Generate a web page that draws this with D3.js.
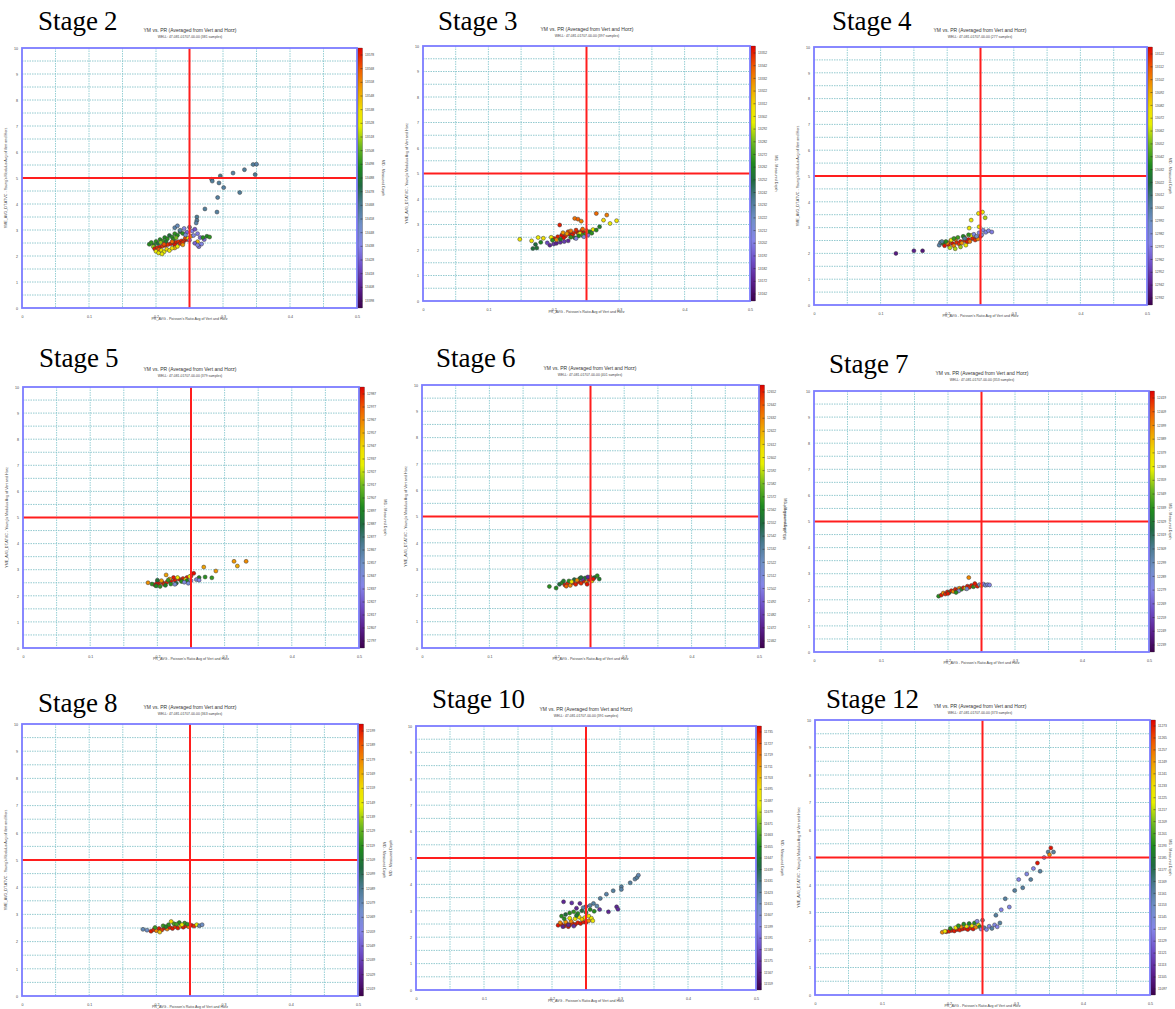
<!DOCTYPE html>
<html>
<head>
<meta charset="utf-8">
<script src="https://cdn.jsdelivr.net/npm/d3@7"></script>
<style>
  body { margin: 0; background: #fff; }
  svg { display: block; }
  .tick-lbl { font-family: 'Liberation Sans', Arial, sans-serif; fill: #444; }
</style>
</head>
<body>
<svg id="chart" width="1175" height="1009"></svg>
<script>
/* global d3 */

// ---- data ----
const stageNames= ['2', '3', '4', '5', '6', '7', '8', '10', '12'];
const sampleCounts= [381, 397, 277, 379, 401, 353, 363, 391, 373];
const wellName= 'WELL: 47-081-01707-00-00';
const chartTitle= 'YM vs. PR (Averaged from Vert and Horz)';
const xLabel= 'PR_AVG - Poisson\'s Ratio Avg of Vert and Horz';
const yLabel= 'YME_AVG_DT.ATVC - Young\'s Modulus Avg of Vert and Horz';
const cLabel= 'MD - Measured Depth';
const xTickVals= [0, 0.1, 0.2, 0.3, 0.4, 0.5];
const yTickVals= [0, 1, 2, 3, 4, 5, 6, 7, 8, 9, 10];
const prCut= 0.25, ymCut= 5;

const mdTicks2= [13398,13408,13418,13428,13438,13448,13458,13468,13478,13488,13498,13508,13518,13528,13538,13548,13558,13568,13578];
const mdTicks3= [13162,13172,13182,13192,13202,13212,13222,13232,13242,13252,13262,13272,13282,13292,13302,13312,13322,13332,13342,13352];
const mdTicks4= [12932,12942,12952,12962,12972,12982,12992,13002,13012,13022,13032,13042,13052,13062,13072,13082,13092,13102,13112,13122];
const mdTicks5= [12797,12807,12817,12827,12837,12847,12857,12867,12877,12887,12897,12907,12917,12927,12937,12947,12957,12967,12977,12987];
const mdTicks6= [12462,12472,12482,12492,12502,12512,12522,12532,12542,12552,12562,12572,12582,12592,12602,12612,12622,12632,12642,12652];
const mdTicks7= [12239,12249,12259,12269,12279,12289,12299,12309,12319,12329,12339,12349,12359,12369,12379,12389,12399,12409,12419];
const mdTicks8= [12019,12029,12039,12049,12059,12069,12079,12089,12099,12109,12119,12129,12139,12149,12159,12169,12179,12189,12199];
const mdTicks10= [11559,11567,11575,11583,11591,11599,11607,11615,11623,11631,11639,11647,11655,11663,11671,11679,11687,11695,11703,11711,11719,11727,11735];
const mdTicks12= [11097,11105,11113,11121,11129,11137,11145,11153,11161,11169,11177,11185,11193,11201,11209,11217,11225,11233,11241,11249,11257,11265,11273];

// [PR, YM, MD]
const pts2= [
  [0.190,2.45,13497],[0.193,2.52,13499],[0.197,2.42,13495],[0.200,2.56,13498],[0.203,2.48,13486],[0.206,2.63,13497],[0.210,2.58,13500],
  [0.213,2.71,13494],[0.217,2.66,13498],[0.220,2.79,13485],[0.224,2.73,13497],[0.228,2.86,13499],[0.232,2.80,13496],[0.236,2.93,13488],
  [0.240,2.87,13498],[0.196,2.36,13517],[0.207,2.52,13515],[0.226,2.64,13497],[0.215,2.55,13490],[0.230,2.70,13512],
  [0.198,2.28,13579],[0.202,2.32,13576],[0.206,2.35,13580],[0.210,2.38,13574],[0.214,2.41,13578],[0.218,2.44,13575],[0.222,2.47,13580],
  [0.226,2.50,13577],[0.230,2.53,13579],[0.234,2.55,13575],[0.238,2.58,13578],[0.242,2.60,13574],[0.246,2.63,13580],[0.212,2.45,13570],
  [0.224,2.55,13565],[0.236,2.48,13577],[0.244,2.70,13572],[0.204,2.25,13568],[0.228,2.42,13580],[0.240,2.52,13576],
  [0.200,2.18,13532],[0.204,2.12,13530],[0.208,2.22,13536],[0.212,2.16,13528],[0.216,2.26,13540],[0.220,2.21,13533],[0.228,2.31,13548],
  [0.232,2.37,13530],[0.240,2.43,13555],[0.248,2.68,13534],[0.252,2.76,13550],[0.262,2.55,13545],[0.209,2.08,13530],[0.224,2.30,13535],
  [0.236,2.99,13464],[0.242,3.06,13440],[0.246,2.91,13430],[0.250,3.11,13466],[0.254,2.96,13438],[0.258,3.03,13425],[0.262,2.86,13436],
  [0.266,2.71,13430],[0.268,2.46,13440],[0.264,2.36,13432],[0.256,2.79,13442],[0.250,2.61,13436],[0.272,2.63,13430],[0.258,2.49,13428],
  [0.244,2.81,13450],[0.228,3.09,13462],[0.232,3.16,13458],[0.262,2.42,13438],
  [0.270,2.71,13497],[0.276,2.76,13495],[0.280,2.73,13499],
  [0.345,5.52,13466],[0.350,5.53,13462],[0.332,5.32,13466],[0.348,5.13,13468],[0.315,5.19,13464],[0.296,5.08,13470],[0.283,4.95,13462],
  [0.284,4.88,13466],[0.294,4.81,13466],[0.301,4.63,13464],[0.325,4.44,13466],[0.292,4.25,13464],[0.273,3.81,13466],[0.291,3.69,13464],
  [0.261,3.50,13468],[0.261,3.37,13466],[0.260,3.27,13462]
];
const pts3= [
  [0.148,2.42,13304],[0.166,2.36,13306],[0.176,2.49,13300],[0.184,2.46,13310],
  [0.168,2.06,13253],[0.172,2.22,13252],[0.174,2.08,13255],[0.180,2.30,13262],
  [0.194,2.19,13175],[0.200,2.24,13180],[0.204,2.26,13172],[0.210,2.30,13178],[0.216,2.33,13182],[0.222,2.36,13176],[0.190,2.28,13186],
  [0.200,2.45,13354],[0.206,2.52,13352],[0.212,2.58,13355],[0.218,2.55,13350],[0.224,2.62,13354],[0.230,2.66,13352],[0.236,2.70,13355],
  [0.242,2.74,13351],[0.246,2.68,13354],[0.228,2.58,13353],[0.215,2.48,13356],[0.234,2.78,13350],[0.209,2.98,13352],[0.222,2.72,13345],
  [0.204,2.40,13330],[0.214,2.68,13327],[0.226,2.75,13335],[0.238,2.62,13325],[0.244,2.82,13338],[0.250,2.76,13330],[0.232,3.24,13336],
  [0.237,3.21,13340],[0.242,3.13,13332],[0.265,3.43,13338],[0.281,3.37,13334],[0.220,2.64,13328],
  [0.196,2.50,13304],[0.240,2.65,13300],[0.252,2.70,13306],[0.276,3.17,13310],[0.286,3.04,13300],[0.296,3.15,13305],[0.260,2.80,13302],
  [0.198,2.38,13267],[0.210,2.42,13262],[0.226,2.50,13268],[0.238,2.55,13265],[0.248,2.62,13270],[0.255,2.72,13262],[0.265,2.78,13266],
  [0.270,2.91,13260],[0.258,2.66,13268],[0.244,2.58,13272],[0.232,2.48,13258],
  [0.234,2.45,13205],[0.246,2.52,13212],[0.252,2.58,13200]
];
const pts4= [
  [0.123,2.00,12940],[0.150,2.10,12942],[0.163,2.10,12938],
  [0.188,2.32,13000],[0.190,2.42,13002],[0.194,2.38,13037],
  [0.196,2.30,13124],[0.202,2.34,13122],[0.208,2.38,13125],[0.214,2.42,13120],[0.220,2.46,13124],[0.226,2.50,13122],[0.232,2.54,13125],
  [0.238,2.58,13121],[0.244,2.62,13124],[0.250,2.66,13122],[0.218,2.36,13118],[0.230,2.44,13124],[0.242,2.52,13120],[0.205,2.48,13115],
  [0.200,2.40,13100],[0.210,2.30,13102],[0.222,2.40,13098],[0.234,2.46,13104],[0.246,2.56,13100],[0.212,2.55,13102],[0.226,2.62,13098],
  [0.204,2.22,13062],[0.212,2.18,13060],[0.220,2.25,13058],[0.228,2.32,13074],[0.206,2.52,13070],[0.236,2.70,13072],[0.247,3.55,13074],
  [0.253,3.60,13072],[0.257,3.38,13060],[0.236,3.29,13072],[0.233,2.98,13074],[0.248,3.03,13076],
  [0.198,2.46,13037],[0.210,2.58,13040],[0.224,2.66,13035],[0.232,2.72,13038],[0.216,2.62,13042],
  [0.240,2.74,12978],[0.248,2.80,12975],[0.254,2.90,12980],[0.258,2.82,12978],[0.262,2.88,12976],[0.267,2.83,12972],[0.252,2.72,12985],
  [0.244,2.66,12990],[0.192,2.46,13002],[0.226,2.58,13005]
];
const pts5= [
  [0.314,3.32,12962],[0.319,3.14,12958],[0.332,3.32,12965],[0.287,2.95,12962],[0.269,3.10,12960],[0.186,2.50,12964],
  [0.271,2.72,12902],[0.281,2.69,12905],[0.262,2.70,12898],
  [0.196,2.42,12989],[0.202,2.46,12987],[0.208,2.50,12990],[0.214,2.52,12986],[0.220,2.56,12989],[0.226,2.60,12987],[0.232,2.64,12990],
  [0.238,2.66,12986],[0.244,2.70,12989],[0.250,2.76,12987],[0.254,2.86,12990],[0.210,2.44,12985],[0.224,2.70,12988],[0.236,2.58,12989],
  [0.200,2.52,12990],
  [0.206,2.58,12962],[0.218,2.64,12960],[0.230,2.70,12940],[0.242,2.62,12938],[0.213,2.80,12960],[0.248,2.74,12940],
  [0.192,2.45,12902],[0.198,2.38,12900],[0.204,2.36,12904],[0.212,2.40,12898],[0.220,2.45,12902],[0.228,2.48,12888],[0.236,2.55,12902],
  [0.244,2.58,12900],[0.216,2.60,12905],[0.200,2.60,12890],
  [0.226,2.44,12851],[0.240,2.52,12845],[0.250,2.58,12840],[0.258,2.62,12850],[0.246,2.48,12848],[0.262,2.60,12842]
];
const pts6= [
  [0.189,2.34,12567],[0.199,2.28,12565],[0.204,2.42,12553],[0.208,2.48,12567],[0.212,2.40,12654],[0.216,2.45,12650],[0.220,2.38,12631],
  [0.224,2.48,12654],[0.228,2.42,12652],[0.232,2.52,12655],[0.236,2.46,12650],[0.240,2.55,12654],[0.244,2.50,12631],[0.248,2.60,12654],
  [0.252,2.55,12604],[0.218,2.55,12567],[0.226,2.60,12553],[0.234,2.64,12567],[0.242,2.66,12560],[0.250,2.70,12567],[0.256,2.68,12553],
  [0.260,2.75,12567],[0.263,2.62,12560],[0.246,2.70,12475],[0.238,2.62,12480],[0.230,2.58,12631],[0.222,2.52,12604],[0.210,2.55,12560],
  [0.254,2.62,12654],[0.214,2.35,12640],[0.245,2.42,12654],[0.236,2.68,12553]
];
const pts7= [
  [0.186,2.14,12338],[0.190,2.18,12420],[0.193,2.26,12399],[0.196,2.22,12418],[0.199,2.30,12420],[0.202,2.28,12338],[0.205,2.35,12420],
  [0.208,2.32,12399],[0.211,2.40,12418],[0.214,2.37,12420],[0.217,2.44,12399],[0.220,2.40,12338],[0.223,2.46,12420],[0.226,2.44,12373],
  [0.229,2.52,12420],[0.231,2.85,12399],[0.232,2.48,12418],[0.235,2.55,12420],[0.238,2.50,12338],[0.241,2.56,12399],[0.244,2.52,12420],
  [0.247,2.58,12290],[0.250,2.55,12373],[0.253,2.60,12280],[0.256,2.56,12290],[0.259,2.58,12285],[0.262,2.57,12280],[0.228,2.42,12290],
  [0.216,2.34,12290],[0.200,2.24,12420],[0.240,2.62,12420],[0.212,2.28,12338]
];
const pts8= [
  [0.180,2.45,12080],[0.186,2.42,12075],[0.192,2.38,12200],[0.196,2.44,12198],[0.200,2.40,12180],[0.204,2.48,12200],[0.208,2.43,12196],
  [0.212,2.50,12200],[0.216,2.46,12180],[0.220,2.52,12198],[0.224,2.48,12200],[0.228,2.55,12196],[0.232,2.50,12200],[0.236,2.57,12170],
  [0.240,2.53,12200],[0.244,2.58,12198],[0.248,2.55,12180],[0.252,2.60,12200],[0.256,2.57,12196],[0.260,2.62,12150],[0.264,2.58,12080],
  [0.268,2.62,12075],[0.210,2.58,12122],[0.218,2.62,12120],[0.226,2.66,12124],[0.234,2.70,12118],[0.242,2.68,12122],[0.222,2.74,12160],
  [0.230,2.64,12125],[0.214,2.55,12115],[0.246,2.64,12120],[0.238,2.62,12150],[0.198,2.52,12122],[0.205,2.35,12165]
];
const pts10= [
  [0.209,2.45,11736],[0.214,2.48,11734],[0.218,2.42,11736],[0.222,2.50,11735],[0.226,2.46,11736],[0.230,2.52,11733],[0.234,2.48,11736],
  [0.238,2.55,11735],[0.242,2.52,11736],[0.246,2.58,11734],[0.250,2.56,11736],[0.212,2.55,11715],[0.220,2.58,11712],[0.228,2.60,11715],
  [0.254,2.62,11715],[0.224,2.40,11736],
  [0.224,2.46,11571],[0.232,2.42,11575],[0.216,2.40,11570],
  [0.226,2.72,11691],[0.234,2.70,11690],[0.240,2.76,11693],[0.248,2.74,11691],[0.254,2.80,11692],[0.258,2.72,11691],[0.244,2.68,11700],
  [0.260,2.62,11691],
  [0.214,2.80,11656],[0.220,2.86,11643],[0.226,2.92,11656],[0.232,2.96,11658],[0.238,2.90,11656],[0.244,3.00,11643],[0.250,2.94,11656],
  [0.256,3.05,11655],[0.262,2.98,11656],[0.218,2.70,11656],[0.236,2.82,11650],
  [0.217,3.34,11571],[0.229,3.30,11575],[0.241,3.28,11572],[0.236,3.10,11571],[0.250,3.16,11575],[0.295,3.15,11571],[0.297,3.06,11573],
  [0.283,2.96,11571],[0.270,3.05,11575],
  [0.261,3.28,11624],[0.266,3.18,11620],[0.271,3.47,11624],[0.280,3.63,11622],[0.290,3.76,11624],[0.302,3.91,11624],[0.302,3.81,11622],
  [0.315,4.06,11624],[0.322,4.20,11622],[0.325,4.26,11624],[0.327,4.35,11620],[0.256,3.20,11624],[0.246,3.12,11622]
];
const pts12= [
  [0.196,2.30,11274],[0.200,2.32,11272],[0.204,2.35,11274],[0.208,2.33,11273],[0.212,2.38,11274],[0.216,2.36,11272],[0.220,2.40,11274],
  [0.224,2.42,11273],[0.228,2.38,11274],[0.232,2.44,11272],[0.236,2.40,11274],
  [0.190,2.28,11253],[0.194,2.32,11229],[0.210,2.45,11229],[0.218,2.48,11253],[0.226,2.50,11229],[0.234,2.52,11232],[0.240,2.46,11253],
  [0.244,2.55,11229],
  [0.202,2.42,11194],[0.214,2.52,11196],[0.222,2.58,11194],[0.230,2.60,11190],[0.238,2.62,11194],[0.246,2.48,11194],
  [0.248,2.40,11137],[0.252,2.45,11162],[0.256,2.38,11140],[0.260,2.50,11137],[0.264,2.42,11162],[0.268,2.55,11140],[0.272,2.48,11137],
  [0.276,2.62,11162],[0.242,2.68,11140],[0.250,2.72,11162],
  [0.270,2.90,11162],[0.278,3.10,11137],[0.284,3.50,11162],[0.290,3.20,11140],[0.298,3.80,11162],[0.304,4.20,11137],[0.310,3.90,11162],
  [0.316,4.40,11140],[0.322,4.20,11162],[0.326,4.60,11137],[0.332,4.80,11274],[0.336,4.50,11162],[0.342,5.00,11140],[0.348,5.20,11162],
  [0.352,5.35,11274],[0.356,5.20,11162],[0.350,5.10,11253]
];

const mdTicks= [mdTicks2, mdTicks3, mdTicks4, mdTicks5, mdTicks6, mdTicks7, mdTicks8, mdTicks10, mdTicks12];
const points= [pts2, pts3, pts4, pts5, pts6, pts7, pts8, pts10, pts12];

// rainbow ramp of the depth colour bar (0 = bottom, 1 = top)
const rampStops= [0, 0.08, 0.16, 0.24, 0.32, 0.40, 0.47, 0.54, 0.62, 0.70, 0.76, 0.84, 0.92, 1];
const rampColors= ['#3c004c','#5c2090','#6f4fc8','#8585e8','#7090c8','#4a7a90','#1f6a40','#1e8a1e','#6cb820','#e8f000','#f0e000','#f0a000','#f05a00','#e00000'];

// ---- layout of the pasted panels ----
const boxes= [
  {x0: 22,  y0: 48,  x1: 357,  y1: 308, tx: 38,  ty: 30,  sx: 190, sy: 32,  ly: 15},
  {x0: 423, y0: 46,  x1: 750,  y1: 301, tx: 438, ty: 30,  sx: 587, sy: 31,  ly: 15},
  {x0: 814, y0: 47,  x1: 1147, y1: 305, tx: 832, ty: 30,  sx: 980, sy: 32,  ly: 15},
  {x0: 23,  y0: 387, x1: 359,  y1: 648, tx: 39,  ty: 367, sx: 190, sy: 371, ly: 15},
  {x0: 422, y0: 385, x1: 759,  y1: 648, tx: 436, ty: 367, sx: 590, sy: 370, ly: 15},
  {x0: 814, y0: 391, x1: 1149, y1: 652, tx: 829, ty: 373, sx: 982, sy: 375, ly: 28},
  {x0: 22,  y0: 724, x1: 358,  y1: 996, tx: 38,  ty: 712, sx: 190, sy: 709, ly: 15},
  {x0: 416, y0: 726, x1: 756,  y1: 990, tx: 432, ty: 708, sx: 586, sy: 711, ly: 24},
  {x0: 815, y0: 720, x1: 1150, y1: 995, tx: 826, ty: 708, sx: 980, sy: 708, ly: 15}
];
const leftLabels= [yLabel, yLabel, yLabel, yLabel, yLabel, cLabel, yLabel, cLabel, yLabel];

const svg= d3.select('#chart');
svg.append('rect').attr('width', 1175).attr('height', 1009).attr('fill', '#fff');

const rainbow= d3.scaleLinear().domain(rampStops).range(rampColors).clamp(true);

const grad= svg.append('defs').append('linearGradient')
  .attr('id', 'mdRamp').attr('x1', 0).attr('y1', 1).attr('x2', 0).attr('y2', 0);
grad.selectAll('stop').data(rampStops).join('stop')
  .attr('offset', d => d)
  .attr('stop-color', (d, i) => rampColors[i]);

const sans= '\'Liberation Sans\', Arial, sans-serif';
const serif= '\'Liberation Serif\', \'Times New Roman\', Times, \'DejaVu Serif\', serif';

function drawPanel(i) {
  const b= boxes[i];
  const g= svg.append('g');
  const x= d3.scaleLinear().domain([0, 0.5]).range([b.x0, b.x1]);
  const y= d3.scaleLinear().domain([0, 10]).range([b.y1, b.y0]);
  const ticks= mdTicks[i];
  const inset= ticks.length > 20 ? 6 : 7;
  const cSc= d3.scaleLinear().domain([ticks[0], ticks[ticks.length-1]]).range([b.y1-inset, b.y0+inset]);
  const frac= md => (b.y1-cSc(md))/(b.y1-b.y0);

  // big stage caption
  const cap= g.append('text')
    .attr('x', b.tx).attr('y', b.ty)
    .attr('font-family', serif)
    .attr('font-size', 27).attr('fill', '#000');
  cap.append('tspan').text('Stage');
  cap.append('tspan').attr('dx', 6).text(stageNames[i]);

  // small chart titles
  g.append('text').attr('x', b.sx).attr('y', b.sy)
    .attr('text-anchor', 'middle').style('font-family', sans).style('font-size', '5px')
    .attr('fill', '#333').text(chartTitle);
  g.append('text').attr('x', b.sx).attr('y', b.sy+5.5)
    .attr('text-anchor', 'middle').style('font-family', sans).style('font-size', '3.4px')
    .attr('fill', '#444').text(`${wellName}  (${sampleCounts[i]} samples)`);

  // grid
  g.append('g').selectAll('line').data(x.ticks(10).filter(v => v > 0 && v < 0.5)).join('line')
    .attr('x1', d => x(d)).attr('x2', d => x(d)).attr('y1', b.y0).attr('y2', b.y1)
    .attr('stroke', '#8ccbd0').attr('stroke-width', 0.9).attr('stroke-dasharray', '1.5,1');
  g.append('g').selectAll('line').data(y.ticks(20).filter(v => v > 0 && v < 10)).join('line')
    .attr('x1', b.x0).attr('x2', b.x1).attr('y1', d => y(d)).attr('y2', d => y(d))
    .attr('stroke', '#88c4cb').attr('stroke-width', 0.9).attr('stroke-dasharray', '1.5,1');

  // points
  g.append('g').selectAll('circle').data(points[i]).join('circle')
    .attr('cx', d => x(d[0])).attr('cy', d => y(d[1])).attr('r', 2)
    .attr('fill', d => rainbow(frac(d[2])))
    .attr('stroke', '#3a3a3a').attr('stroke-width', 0.5);

  // red cut-off cross
  g.append('line').attr('x1', x(prCut)).attr('x2', x(prCut)).attr('y1', b.y0).attr('y2', b.y1)
    .attr('stroke', '#ff1e1e').attr('stroke-width', 2);
  g.append('line').attr('x1', b.x0).attr('x2', b.x1).attr('y1', y(ymCut)).attr('y2', y(ymCut))
    .attr('stroke', '#ff1e1e').attr('stroke-width', 2);

  // frame
  g.append('rect').attr('x', b.x0).attr('y', b.y0)
    .attr('width', b.x1-b.x0).attr('height', b.y1-b.y0)
    .attr('fill', 'none').attr('stroke', '#7c7cff').attr('stroke-width', 1.8);

  // axes
  const ax= g.append('g').attr('transform', `translate(0,${b.y1+6.5})`)
    .call(d3.axisBottom(x).tickValues(xTickVals).tickSize(0).tickFormat(d3.format('')));
  const ay= g.append('g').attr('transform', `translate(${b.x0-4},0)`)
    .call(d3.axisLeft(y).tickValues(yTickVals).tickSize(0).tickFormat(d3.format('d')));
  [ax, ay].forEach(a => {
    a.select('.domain').remove();
    a.selectAll('text').attr('class', 'tick-lbl').style('font-size', '3.6px').attr('fill', '#444');
  });
  ax.selectAll('text').attr('dy', 0);
  ay.selectAll('text').attr('dy', '0.35em').attr('x', 0);

  g.append('text').attr('x', (b.x0+b.x1)/2).attr('y', Math.min(b.y1+12, 1007.5))
    .attr('text-anchor', 'middle').style('font-family', sans).style('font-size', '3.6px')
    .attr('fill', '#444').text(xLabel);
  g.append('text')
    .attr('transform', `translate(${b.x0-b.ly},${(b.y0+b.y1)/2}) rotate(-90)`)
    .attr('text-anchor', 'middle').style('font-family', sans).style('font-size', '3.7px')
    .attr('fill', '#444').text(leftLabels[i]);

  // depth colour bar
  const bx= b.x1+1;
  g.append('rect').attr('x', bx).attr('y', b.y0).attr('width', 4.5).attr('height', b.y1-b.y0)
    .attr('fill', 'url(#mdRamp)').attr('stroke', '#333').attr('stroke-width', 0.3);
  g.append('g').selectAll('line').data(ticks).join('line')
    .attr('x1', bx+2.5).attr('x2', bx+4.5).attr('y1', d => cSc(d)).attr('y2', d => cSc(d))
    .attr('stroke', '#222').attr('stroke-width', 0.5);
  g.append('g').selectAll('text').data(ticks).join('text')
    .attr('x', bx+7).attr('y', d => cSc(d)).attr('dy', '0.35em')
    .style('font-family', sans).style('font-size', '3.3px').attr('fill', '#444')
    .text(d => d);
  g.append('text')
    .attr('transform', `translate(${Math.min(b.x1+25, 1169)},${(b.y0+b.y1)/2}) rotate(90)`)
    .attr('text-anchor', 'middle').style('font-family', sans).style('font-size', '3.7px')
    .attr('fill', '#444').text(cLabel);
}

boxes.forEach((_, i) => drawPanel(i));
</script>
</body>
</html>
